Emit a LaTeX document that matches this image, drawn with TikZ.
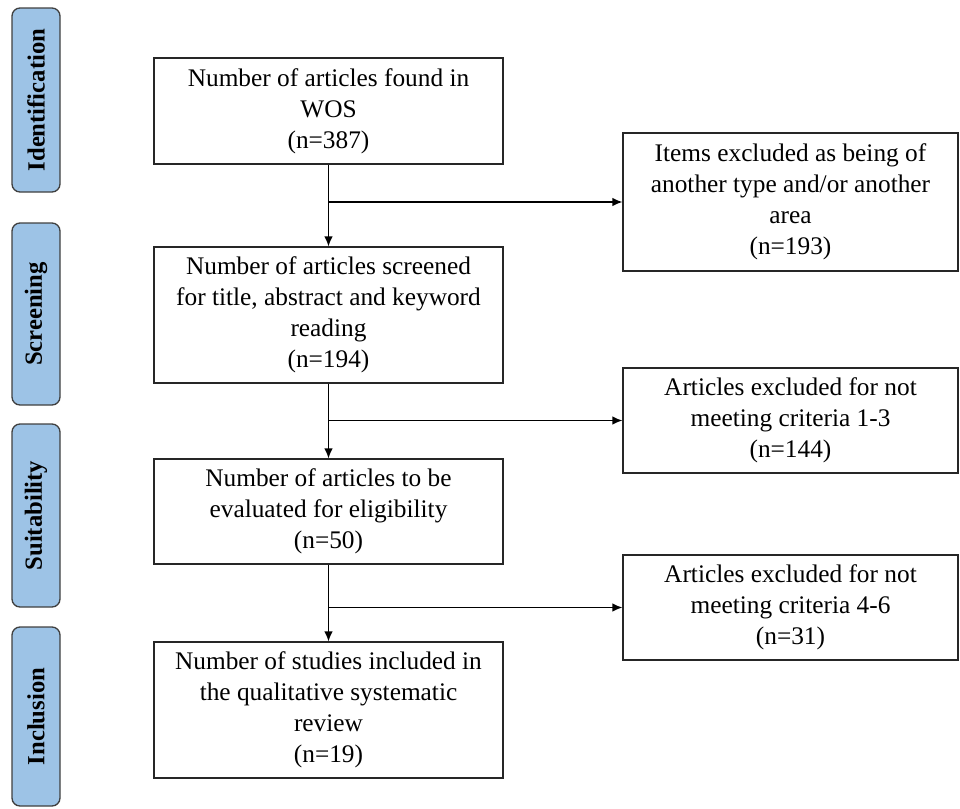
\documentclass[tikz,border=0pt]{standalone}
\usepackage{fontspec}
\setmainfont{Liberation Serif}
\usetikzlibrary{arrows.meta}
\definecolor{stagefill}{HTML}{9DC3E6}
\definecolor{stageline}{HTML}{404040}
\begin{document}
\begin{tikzpicture}[x=0.75pt,y=-0.75pt,
  box/.style={draw=black!85,line width=1pt,fill=white,align=center,inner sep=2pt,
    font=\fontsize{19}{23.3}\selectfont},
  stage/.style={draw=stageline,line width=1pt,fill=stagefill,rounded corners=6pt,
    rotate=90,minimum height=36pt,inner sep=0pt,font=\fontsize{18.5}{22}\selectfont\bfseries},
  flow/.style={line width=1pt,-{Latex[length=7.5pt,width=6.5pt]}}]
\useasboundingbox (0,0) rectangle (960,808);

% stages on the left
\foreach \lab/\yc/\h [count=\i] in {Identification/100/138pt,Screening/314/136.5pt,Suitability/515.5/137.25pt,Inclusion/716.5/134.25pt}
  {\node[stage,minimum width=\h] (stage\i) at (36,\yc) {\lab};}

% main column
\node[box,minimum width=261.75pt,minimum height=79.5pt] (wos) at (328.5,111) {Number of articles found in\\WOS\\(n=387)};
\node[box,minimum width=261.75pt,minimum height=102pt] (screen) at (328.5,315) {Number of articles screened\\for title, abstract and keyword\\reading\\(n=194)};
\node[box,minimum width=261.75pt,minimum height=78.75pt] (elig) at (328.5,511.5) {Number of articles to be\\evaluated for eligibility\\(n=50)};
\node[box,minimum width=261.75pt,minimum height=102pt] (incl) at (328.5,710) {Number of studies included in\\the qualitative systematic\\review\\(n=19)};

% excluded
\node[box,minimum width=251.25pt,minimum height=103.5pt] (ex1) at (790.5,202) {Items excluded as being of\\another type and/or another\\area\\(n=193)};
\node[box,minimum width=251.25pt,minimum height=78.75pt] (ex2) at (790.5,420.5) {Articles excluded for not\\meeting criteria 1-3\\(n=144)};
\node[box,minimum width=251.25pt,minimum height=78.75pt] (ex3) at (790.5,607.5) {Articles excluded for not\\meeting criteria 4-6\\(n=31)};

\draw[flow] (wos) -- (screen);
\draw[flow] (screen) -- (elig);
\draw[flow] (elig) -- (incl);
\draw[flow] (wos.south |- ex1.west) -- (ex1.west);
\draw[flow] (screen.south |- ex2.west) -- (ex2.west);
\draw[flow] (elig.south |- ex3.west) -- (ex3.west);
\end{tikzpicture}
\end{document}
